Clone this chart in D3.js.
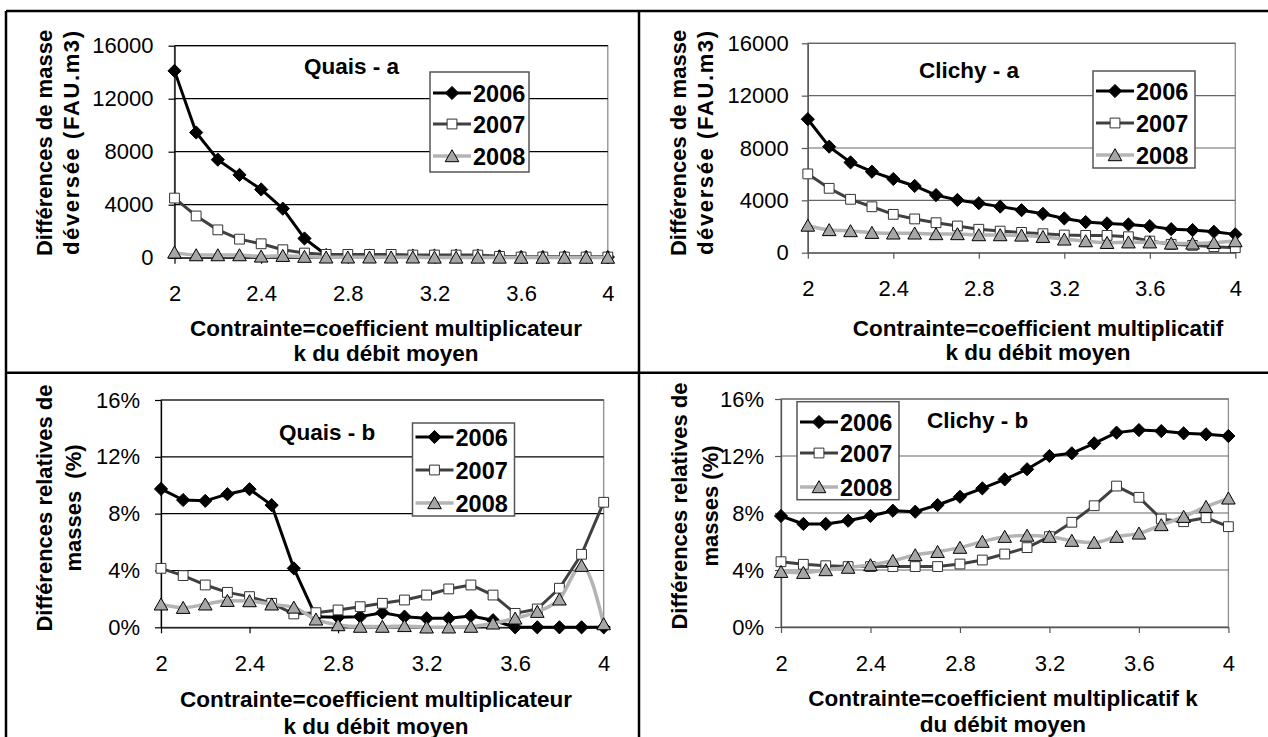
<!DOCTYPE html>
<html><head><meta charset="utf-8">
<script src="https://cdn.jsdelivr.net/npm/d3@7"></script>
<style>
body{margin:0;background:#fff}
svg{display:block}
text{font-family:"Liberation Sans",Arial,Helvetica,sans-serif;fill:#000;white-space:pre}
</style>
</head><body>
<svg id="chart" width="1268" height="737"></svg>
<script>
// ---------- DATA ----------
const kValues = [2.0,2.1,2.2,2.3,2.4,2.5,2.6,2.7,2.8,2.9,3.0,3.1,3.2,3.3,3.4,3.5,3.6,3.7,3.8,3.9,4.0];
const xTickValues = [2,2.4,2.8,3.2,3.6,4];
const massTicks = [0,4000,8000,12000,16000];
const pctTicks = [0,4,8,12,16];
const years = ["2006","2007","2008"];

const quaisA2006 = [14100,9450,7400,6250,5150,3700,1450,200,150,150,150,150,150,150,150,100,50,50,50,50,50];
const quaisA2007 = [4500,3150,2100,1400,1050,600,350,250,250,250,250,200,200,200,200,100,50,50,50,50,50];
const quaisA2008 = [400,200,200,200,100,150,80,30,30,30,30,30,20,20,20,20,10,10,10,10,10];

const clichyA2006 = [10200,8100,6900,6190,5630,5100,4400,4030,3780,3520,3250,2970,2620,2340,2240,2160,2030,1800,1730,1600,1400];
const clichyA2007 = [6020,4920,4080,3510,2930,2580,2290,2040,1790,1650,1550,1450,1350,1320,1320,1220,890,640,560,460,380];
const clichyA2008 = [2080,1740,1660,1530,1480,1480,1430,1430,1350,1350,1320,1220,1020,890,760,800,800,710,710,760,890];

const quaisB2006 = [9.74,8.96,8.9,9.37,9.72,8.6,4.15,0.75,0.7,0.75,1.03,0.75,0.63,0.63,0.8,0.5,0,0,0,0,0];
const quaisB2007 = [4.15,3.64,2.98,2.46,2.16,1.69,0.94,1.03,1.22,1.45,1.69,1.92,2.27,2.7,2.98,2.27,0.98,1.29,2.75,5.14,8.8];
const quaisB2008 = [1.62,1.38,1.62,1.87,1.85,1.62,1.4,0.56,0.16,0.05,0.05,0.1,0,0,0.05,0.28,0.63,1.1,1.97,4.34,0.23];

const clichyB2006 = [7.79,7.23,7.23,7.46,7.79,8.16,8.09,8.56,9.14,9.73,10.36,11.07,12.0,12.19,12.89,13.64,13.82,13.75,13.59,13.52,13.4];
const clichyB2007 = [4.58,4.4,4.3,4.24,4.24,4.24,4.24,4.24,4.42,4.7,5.12,5.57,6.34,7.35,8.51,9.89,9.1,7.58,7.39,7.67,7.04];
const clichyB2008 = [3.88,3.81,4.0,4.17,4.35,4.65,5.05,5.28,5.57,5.99,6.34,6.42,6.34,6.06,5.92,6.34,6.57,7.16,7.74,8.44,9.03];

// ---------- LAYOUT / STYLE ----------
const FS_TICK = 22, FS_TITLE = 22.5, FS_YT = 22, FS_LEG = 23.5;
const panels = [
  {title:"Quais - a", series:[quaisA2006,quaisA2007,quaisA2008], yTicks:massTicks, yMax:16000, fmt:d3.format("d"),
   x0:174.5, x1:607.8, yT:45.7, yB:257.7, titleX:304, titleY:66,
   legend:{x:430, y:72, w:99, h:100, rows:[93,124,156]},
   yLabel:["Différences de masse","déversée (FAU.m3)"], yLabelLen:[null,224], yLabelX:[45,72], yLabelY:143,
   xLabel:["Contrainte=coefficient multiplicateur","k du débit moyen"], xLabelX:386, xLabelY:[336,361],
   grid:"#000", axis:"#000", pad:15},
  {title:"Clichy - a", series:[clichyA2006,clichyA2007,clichyA2008], yTicks:massTicks, yMax:16000, fmt:d3.format("d"),
   x0:807.8, x1:1235.3, yT:43.3, yB:252.7, titleX:919, titleY:70,
   legend:{x:1093, y:71, w:102, h:97, rows:[91,123,155]},
   yLabel:["Différences de masse","déversée (FAU.m3)"], yLabelLen:[null,224], yLabelX:[679,706], yLabelY:143,
   xLabel:["Contrainte=coefficient multiplicatif","k du débit moyen"], xLabelX:1038, xLabelY:[336,360],
   grid:"#666", axis:"#555", pad:13},
  {title:"Quais - b", series:[quaisB2006,quaisB2007,quaisB2008], yTicks:pctTicks, yMax:16, fmt:d=>d+"%",
   x0:161, x1:603.7, yT:400, yB:627.3, titleX:279, titleY:432,
   legend:{x:412.5, y:423, w:102, h:93, rows:[437,470,503]},
   yLabel:["Différences relatives de","masses  (%)"], yLabelLen:[null,null], yLabelX:[45,74], yLabelY:508,
   xLabel:["Contrainte=coefficient multiplicateur","k du débit moyen"], xLabelX:376, xLabelY:[707,733.5],
   grid:"#000", axis:"#000", pad:15},
  {title:"Clichy - b", series:[clichyB2006,clichyB2007,clichyB2008], yTicks:pctTicks, yMax:16, fmt:d=>d+"%",
   x0:781, x1:1228.4, yT:399, yB:627, titleX:927, titleY:420,
   legend:{x:797, y:401.7, w:102, h:98, rows:[422,453,487]},
   yLabel:["Différences relatives de","masses (%)"], yLabelLen:[null,null], yLabelX:[680,711], yLabelY:506,
   xLabel:["Contrainte=coefficient multiplicatif k","du débit moyen"], xLabelX:1003, xLabelY:[706,732],
   grid:"#666", axis:"#555", pad:11}
];

const seriesStyle = [
  {line:"#000000", width:3, marker:"diamond", fill:"#000000", stroke:"#000000", curve:d3.curveLinear},
  {line:"#404040", width:3, marker:"square", fill:"#ffffff", stroke:"#333333", curve:d3.curveLinear},
  {line:"#b4b4b4", width:3.5, marker:"triangle", fill:"#a6a6a6", stroke:"#000000", curve:d3.curveMonotoneX}
];

function markerPath(type){
  if(type==="diamond") return "M0,-6.6L6.6,0L0,6.6L-6.6,0Z";
  if(type==="square") return "M-4.9,-4.9H4.9V4.9H-4.9Z";
  return "M0,-6.3L6.8,5.7H-6.8Z";
}

const svg = d3.select("#chart");
svg.append("rect").attr("width",1268).attr("height",737).attr("fill","#fff");

panels.forEach(p=>{
  const g = svg.append("g");
  const x = d3.scaleLinear().domain([2,4]).range([p.x0,p.x1]);
  const y = d3.scaleLinear().domain([0,p.yMax]).range([p.yB,p.yT]);

  // plot area border
  g.append("rect").attr("x",p.x0).attr("y",p.yT).attr("width",p.x1-p.x0).attr("height",p.yB-p.yT)
    .attr("fill","none").attr("stroke","#8c8c8c").attr("stroke-width",1.3);

  // gridlines
  g.selectAll("line.grid").data(p.yTicks.filter(t=>t>0)).join("line").attr("class","grid")
    .attr("x1",p.x0).attr("x2",p.x1).attr("y1",d=>y(d)).attr("y2",d=>y(d))
    .attr("stroke",p.grid).attr("stroke-width",1.2);

  // y axis
  const ya = g.append("g").attr("transform",`translate(${p.x0},0)`)
    .call(d3.axisLeft(y).tickValues(p.yTicks).tickSize(6).tickSizeOuter(0).tickPadding(p.pad).tickFormat(p.fmt));
  ya.select(".domain").attr("stroke",p.axis).attr("stroke-width",1.3);
  ya.selectAll(".tick line").attr("stroke",p.axis).attr("stroke-width",1.2);
  ya.selectAll(".tick text").attr("font-size",FS_TICK).attr("font-family","Liberation Sans, Arial, sans-serif").attr("fill","#000");

  // x axis
  const xa = g.append("g").attr("transform",`translate(0,${p.yB})`)
    .call(d3.axisBottom(x).tickValues(xTickValues).tickSize(6).tickSizeOuter(0).tickPadding(22).tickFormat(d3.format("")));
  xa.select(".domain").attr("stroke",p.axis).attr("stroke-width",1.3);
  xa.selectAll(".tick line").attr("stroke",p.axis).attr("stroke-width",1.2);
  xa.selectAll(".tick text").attr("font-size",FS_TICK).attr("font-family","Liberation Sans, Arial, sans-serif").attr("fill","#000");

  // series
  p.series.forEach((vals,i)=>{
    const st = seriesStyle[i];
    const pts = kValues.map((k,j)=>[k,vals[j]]);
    const line = d3.line().x(d=>x(d[0])).y(d=>y(d[1])).curve(st.curve);
    g.append("path").datum(pts).attr("d",line).attr("fill","none")
      .attr("stroke",st.line).attr("stroke-width",st.width).attr("stroke-linejoin","round");
    g.selectAll(null).data(pts).join("path")
      .attr("d",markerPath(st.marker))
      .attr("transform",d=>`translate(${x(d[0])},${y(d[1])})`)
      .attr("fill",st.fill).attr("stroke",st.stroke).attr("stroke-width",1);
  });

  // chart title
  g.append("text").attr("x",p.titleX).attr("y",p.titleY+8).attr("font-size",FS_TITLE).attr("font-weight","bold").text(p.title);

  // legend
  const L = p.legend;
  g.append("rect").attr("x",L.x).attr("y",L.y).attr("width",L.w).attr("height",L.h)
    .attr("fill","#fff").attr("stroke","#555").attr("stroke-width",1.5);
  years.forEach((yr,i)=>{
    const st = seriesStyle[i];
    const ry = L.rows[i];
    g.append("line").attr("x1",L.x+3).attr("x2",L.x+41).attr("y1",ry).attr("y2",ry)
      .attr("stroke",st.line).attr("stroke-width",st.width);
    g.append("path").attr("d",markerPath(st.marker)).attr("transform",`translate(${L.x+22},${ry})`)
      .attr("fill",st.fill).attr("stroke",st.stroke).attr("stroke-width",1);
    g.append("text").attr("x",L.x+43).attr("y",ry+8.5).attr("font-size",FS_LEG).attr("font-weight","bold").text(yr);
  });

  // y axis title (two lines, rotated)
  p.yLabel.forEach((t,i)=>{
    const tx = g.append("text").attr("transform",`translate(${p.yLabelX[i]+7},${p.yLabelY}) rotate(-90)`)
      .attr("text-anchor","middle").attr("font-size",FS_YT).attr("font-weight","bold").text(t);
    if(p.yLabelLen[i]) tx.attr("textLength",p.yLabelLen[i]).attr("lengthAdjust","spacing");
  });
  // x axis title
  p.xLabel.forEach((t,i)=>{
    g.append("text").attr("x",p.xLabelX).attr("y",p.xLabelY[i]).attr("text-anchor","middle")
      .attr("font-size",FS_TITLE).attr("font-weight","bold").text(t);
  });
});

// outer frame
const frame = [[6,11,1268,11],[6,372.7,1268,372.7],[6,11,6,737],[639,11,639,737]];
svg.selectAll("line.frame").data(frame).join("line").attr("class","frame")
  .attr("x1",d=>d[0]).attr("y1",d=>d[1]).attr("x2",d=>d[2]).attr("y2",d=>d[3])
  .attr("stroke","#000").attr("stroke-width",2.5);
</script>
</body></html>
